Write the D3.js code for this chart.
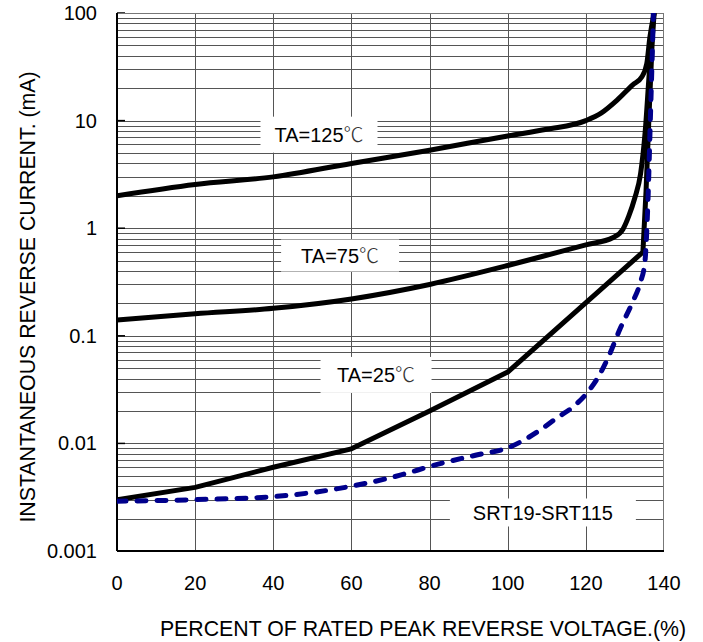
<!DOCTYPE html>
<html>
<head>
<meta charset="utf-8">
<script src="https://cdn.jsdelivr.net/npm/d3@7"></script>
<style>
  body { margin: 0; background: #fff; }
  text { font-family: Arial, "Liberation Sans", sans-serif; fill: #000; }
</style>
</head>
<body>
<div id="chart"></div>
<script>
// percent of rated peak reverse voltage vs. reverse current (mA)
var pct125 = [0, 20, 40, 60, 80, 100, 110, 120, 124, 128, 132, 134.3, 135.6, 136.4, 137.5];
var ir125  = [2.0, 2.55, 3.0, 4.0, 5.3, 7.2, 8.3, 10, 11.8, 15.5, 21.5, 25.4, 34, 60, 100];

var pct75 = [0, 20, 40, 60, 80, 100, 113, 120, 127, 129.5, 131, 132.5, 134, 135.2, 136.3, 137.5];
var ir75  = [0.14, 0.16, 0.18, 0.22, 0.30, 0.45, 0.6, 0.7, 0.82, 0.98, 1.3, 1.9, 3.2, 8, 30, 100];

var pct25 = [0, 20, 40, 60, 80, 100, 134.6, 135.4, 136.2, 137.3];
var ir25  = [0.003, 0.0039, 0.006, 0.0089, 0.020, 0.046, 0.6, 2.2, 12, 100];

var pctDash = [0, 20, 40, 60, 70, 83.5, 92, 100, 108.3, 112.6, 116.7, 120.3, 123.1, 126.2, 128.7, 131.8, 133.9, 135.1, 135.9, 136.5, 137.3];
var irDash  = [0.0029, 0.003, 0.0032, 0.004, 0.0048, 0.0066, 0.0078, 0.0091, 0.0133, 0.0173, 0.0218, 0.0295, 0.041, 0.069, 0.115, 0.2, 0.31, 0.48, 1.83, 10, 100];

var xTicks = [0, 20, 40, 60, 80, 100, 120, 140];
var yTicks = [0.001, 0.01, 0.1, 1, 10, 100];
var yTickLabels = ["0.001", "0.01", "0.1", "1", "10", "100"];

var labelText = ["TA=125", "TA=75", "TA=25", "SRT19-SRT115"];
var labelDeg  = [true, true, true, false];
var labelAtX  = [51.7, 57.1, 66.3, 109];
var labelAtY  = [7.4, 0.557, 0.0433, 0.00228];

var margin = {top: 13, right: 39, bottom: 91, left: 117},
    width = 703 - margin.left - margin.right,
    height = 642 - margin.top - margin.bottom;

var x = d3.scaleLinear().domain([0, 140]).range([0, width]);
var y = d3.scaleLog().domain([0.001, 100]).range([height, 0]);

var svg = d3.select("#chart").append("svg")
    .attr("width", 703)
    .attr("height", 642);

var g = svg.append("g")
    .attr("transform", "translate(" + margin.left + "," + margin.top + ")");

// horizontal grid, 1..9 in every decade
var minor = [];
for (var k = -3; k < 2; k++) {
  for (var m = 1; m < 10; m++) {
    var v = m * Math.pow(10, k);
    if (v > 0.001 * 1.0001) minor.push(v);
  }
}
g.selectAll(".hgrid").data(minor)
  .enter().append("line")
    .attr("class", "hgrid")
    .attr("x1", 0).attr("x2", width)
    .attr("y1", function(d) { return Math.round(y(d)) + 0.5; })
    .attr("y2", function(d) { return Math.round(y(d)) + 0.5; })
    .attr("stroke", "#555")
    .attr("stroke-width", 1);

g.selectAll(".vgrid").data(xTicks.slice(1, -1))
  .enter().append("line")
    .attr("class", "vgrid")
    .attr("y1", 0).attr("y2", height)
    .attr("x1", function(d) { return Math.round(x(d)) + 0.5; })
    .attr("x2", function(d) { return Math.round(x(d)) + 0.5; })
    .attr("stroke", "#555")
    .attr("stroke-width", 1);

// small decade ticks inside the left edge
g.selectAll(".dtick").data(yTicks)
  .enter().append("line")
    .attr("x1", 0).attr("x2", 8)
    .attr("y1", function(d) { return y(d); })
    .attr("y2", function(d) { return y(d); })
    .attr("stroke", "#000")
    .attr("stroke-width", 1.5);

// frame
g.append("line").attr("x1", 0).attr("x2", width).attr("y1", 0.5).attr("y2", 0.5)
  .attr("stroke", "#777");
g.append("line").attr("x1", width - 0.5).attr("x2", width - 0.5).attr("y1", 0).attr("y2", height)
  .attr("stroke", "#777");
g.append("line").attr("x1", 0).attr("x2", 0).attr("y1", 0).attr("y2", height)
  .attr("stroke", "#000").attr("stroke-width", 2);
g.append("line").attr("x1", 0).attr("x2", width).attr("y1", height).attr("y2", height)
  .attr("stroke", "#000").attr("stroke-width", 2);

// labels with white boxes
var boxW = [117, 118, 111, 186], boxH = [36, 32, 36, 28];
labelText.forEach(function(t, i) {
  var cx = x(labelAtX[i]), cy = y(labelAtY[i]);
  g.append("rect")
    .attr("x", cx - boxW[i] / 2)
    .attr("y", cy - boxH[i] / 2)
    .attr("width", boxW[i])
    .attr("height", boxH[i])
    .attr("fill", "#fff");
  var txt = g.append("text")
    .attr("x", cx)
    .attr("y", cy + 7.5)
    .attr("text-anchor", "middle")
    .style("font-size", "20px")
    .text(t);
  if (labelDeg[i]) {
    txt.append("tspan")
      .style("font-family", "'Noto Sans CJK SC'")
      .style("font-weight", 300)
      .style("fill", "#333")
      .text("\u2103");
  }
});

// axis tick labels
g.selectAll(".xlab").data(xTicks)
  .enter().append("text")
    .attr("x", function(d) { return x(d); })
    .attr("y", height + 39)
    .attr("text-anchor", "middle")
    .style("font-size", "20px")
    .text(function(d) { return d; });

g.selectAll(".ylab").data(yTicks)
  .enter().append("text")
    .attr("x", -20)
    .attr("y", function(d) { return y(d) + 7; })
    .attr("text-anchor", "end")
    .style("font-size", "20px")
    .text(function(d, i) { return yTickLabels[i]; });

svg.append("text")
  .attr("x", 423)
  .attr("y", 636)
  .attr("text-anchor", "middle")
  .style("font-size", "21.3px")
  .text("PERCENT OF RATED PEAK REVERSE VOLTAGE.(%)");

svg.append("text")
  .attr("transform", "translate(35,297) rotate(-90)")
  .attr("text-anchor", "middle")
  .style("font-size", "21.3px")
  .text("INSTANTANEOUS REVERSE CURRENT. (mA)");

// curves
function pts(xs, ys) {
  return xs.map(function(d, i) { return [d, ys[i]]; });
}
var smooth = d3.line()
    .x(function(d) { return x(d[0]); })
    .y(function(d) { return y(d[1]); })
    .curve(d3.curveMonotoneX);
var straight = d3.line()
    .x(function(d) { return x(d[0]); })
    .y(function(d) { return y(d[1]); });

g.append("clipPath").attr("id", "plot")
  .append("rect").attr("width", width).attr("height", height);
var curves = g.append("g").attr("clip-path", "url(#plot)");

curves.append("path")
    .attr("d", smooth(pts(pct125, ir125)))
    .attr("fill", "none").attr("stroke", "#000").attr("stroke-width", 5)
    .attr("stroke-linejoin", "round");
curves.append("path")
    .attr("d", smooth(pts(pct75, ir75)))
    .attr("fill", "none").attr("stroke", "#000").attr("stroke-width", 5)
    .attr("stroke-linejoin", "round");
curves.append("path")
    .attr("d", straight(pts(pct25, ir25)))
    .attr("fill", "none").attr("stroke", "#000").attr("stroke-width", 5)
    .attr("stroke-linejoin", "round");
curves.append("path")
    .attr("d", smooth(pts(pctDash, irDash)))
    .attr("fill", "none").attr("stroke", "#00008c").attr("stroke-width", 5)
    .attr("stroke-linecap", "round")
    .attr("stroke-dasharray", "9,11");
</script>
</body>
</html>
